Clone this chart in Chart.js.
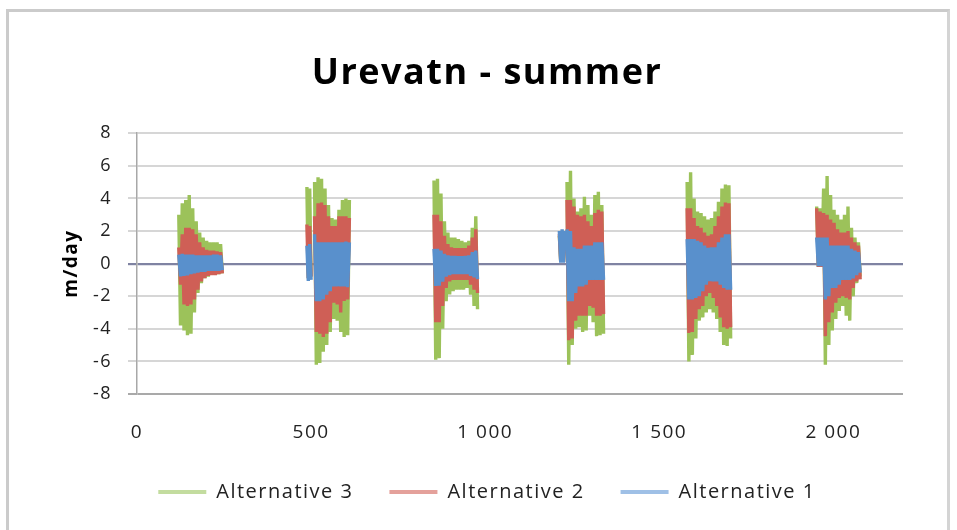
<!DOCTYPE html>
<html lang="no">
<head>
  <meta charset="UTF-8">
  <title>Urevatn - summer</title>
  <script src="https://cdn.jsdelivr.net/npm/chart.js"></script>
  <style>
    body { margin: 0; background: #fff; }
    #frame {
      position: absolute; left: 6px; top: 9px; width: 944px; height: 560px;
      box-sizing: border-box; border: 3px solid #cbcbcb; border-right-color: #d4d4d4;
    }
    #chart { position: absolute; left: 0; top: 0; }
  </style>
</head>
<body>
  <div id="frame"></div>
  <canvas id="chart" width="957" height="530"></canvas>

  <script>
    // hour index of each sample, null rows in the series split the summer blocks
    const hours = [
      120, 125, 130, 135, 140, 145, 150, 155, 160, 165, 170, 175, 180, 185, 190, 195, 200, 205, 210, 215, 220, 225, 230, 235, 240, 245,
      400,
      488, 492, 496, 500,
      505,
      510, 515, 520, 525, 530, 535, 540, 545, 550, 555, 560, 565, 570, 575, 580, 585, 590, 595, 600, 605, 610,
      750,
      853, 858, 863, 868, 873, 878, 883, 888, 893, 898, 903, 908, 913, 918, 923, 928, 933, 938, 943, 948, 953, 958, 963, 968, 973, 978,
      1100,
      1213, 1217, 1221, 1225, 1229,
      1232,
      1235, 1240, 1245, 1250, 1255, 1260, 1265, 1270, 1275, 1280, 1285, 1290, 1295, 1300, 1305, 1310, 1315, 1320, 1325, 1330, 1335, 1340,
      1450,
      1580, 1585, 1590, 1595, 1600, 1605, 1610, 1615, 1620, 1625, 1630, 1635, 1640, 1645, 1650, 1655, 1660, 1665, 1670, 1675, 1680, 1685, 1690, 1695, 1700, 1705,
      1850,
      1952, 1957, 1962, 1967, 1972, 1977, 1982, 1987, 1992, 1997, 2002, 2007, 2012, 2017, 2022, 2027, 2032, 2037, 2042, 2047, 2052, 2057, 2062, 2067, 2072, 2077
    ];

    const alt3 = [
      3.0, -3.8, 3.7, -4.1, 3.9, -4.4, 4.2, -4.3, 3.4, -3.0, 2.6, -1.8, 1.9, -1.2, 1.6, -0.9, 1.4, -0.8, 1.3, -0.7, 1.3, -0.7, 1.3, -0.65, 1.2, -0.6,
      null,
      4.7, -0.9, 4.6, -0.8,
      null,
      5.0, -6.2, 5.3, -6.1, 5.2, -5.4, 4.6, -5.0, 3.6, -4.2, 2.8, -3.4, 2.7, -3.5, 3.3, -4.2, 3.9, -4.5, 4.0, -4.4, 3.9,
      null,
      5.1, -5.9, 5.2, -5.8, 4.3, -4.0, 2.6, -2.3, 1.9, -1.9, 1.6, -1.7, 1.6, -1.6, 1.5, -1.6, 1.4, -1.6, 1.3, -1.5, 1.4, -1.9, 2.2, -2.6, 2.9, -2.8,
      null,
      1.7, 0.1, 1.7, 0.1, 1.6,
      null,
      5.0, -6.2, 5.7, -5.0, 4.0, -4.0, 3.2, -3.9, 3.4, -4.2, 4.1, -4.1, 3.6, -3.2, 3.0, -3.6, 4.2, -4.45, 4.4, -4.4, 3.6, -4.3,
      null,
      5.0, -6.0, 5.6, -5.6, 4.0, -4.6, 3.2, -3.5, 3.1, -3.3, 2.9, -3.0, 2.7, -2.8, 2.8, -3.0, 3.2, -3.4, 3.8, -4.2, 4.6, -5.0, 4.85, -5.05, 4.8, -4.6,
      null,
      3.5, -0.2, 3.4, -0.2, 4.6, -6.2, 5.37, -5.0, 4.2, -4.1, 3.3, -3.4, 3.0, -2.9, 2.7, -2.6, 3.0, -3.2, 3.5, -3.5, 2.2, -2.0, 1.6, -1.2, 1.3, -0.8
    ];

    const alt2 = [
      1.0, -1.3, 1.8, -2.5, 2.2, -2.6, 2.2, -2.5, 2.1, -2.2, 1.8, -1.6, 1.3, -1.1, 1.0, -0.9, 0.85, -0.75, 0.8, -0.7, 0.8, -0.7, 0.75, -0.65, 0.7, -0.6,
      null,
      2.4, -0.9, 2.3, -0.8,
      null,
      2.9, -4.2, 3.7, -4.3, 3.75, -4.5, 3.6, -4.3, 2.9, -3.6, 2.3, -2.4, 2.3, -2.5, 2.9, -3.0, 2.9, -2.3, 2.9, -2.2, 2.8,
      null,
      3.0, -3.6, 3.0, -3.6, 2.6, -2.6, 1.7, -1.5, 1.2, -1.1, 1.0, -1.0, 0.95, -1.0, 0.95, -1.0, 0.95, -1.0, 0.95, -1.0, 1.1, -1.3, 1.6, -1.6, 2.1, -1.8,
      null,
      1.8, 0.1, 1.8, 0.1, 1.7,
      null,
      3.9, -4.7, 3.9, -4.6, 3.5, -3.5, 3.0, -3.2, 2.9, -3.2, 3.0, -3.2, 2.6, -2.6, 2.3, -2.7, 3.1, -3.2, 3.3, -3.2, 3.2, -3.1,
      null,
      3.4, -4.25, 3.4, -4.2, 2.8, -3.4, 2.3, -2.8, 2.2, -2.6, 1.9, -2.0, 1.7, -1.8, 1.8, -2.1, 2.3, -2.6, 2.9, -3.3, 3.5, -3.9, 3.75, -4.0, 3.7, -3.9,
      null,
      3.4, -0.2, 3.2, -0.2, 3.1, -4.45, 3.0, -3.6, 2.7, -3.0, 2.5, -2.4, 2.1, -2.1, 1.9, -2.0, 1.9, -2.1, 2.0, -2.2, 1.6, -1.5, 1.3, -1.1, 1.1, -0.97
    ];

    const alt1 = [
      0.55, -0.78, 0.6, -0.75, 0.55, -0.72, 0.55, -0.65, 0.55, -0.6, 0.5, -0.55, 0.5, -0.5, 0.5, -0.5, 0.5, -0.45, 0.5, -0.45, 0.55, -0.45, 0.55, -0.45, 0.5, -0.4,
      null,
      1.1, -1.07, 1.2, -1.0,
      null,
      1.8, -2.3, 1.3, -2.3, 1.3, -2.2, 1.3, -1.9, 1.3, -1.7, 1.3, -1.4, 1.3, -1.4, 1.3, -1.4, 1.3, -1.4, 1.35, -1.45, 1.3,
      null,
      0.9, -1.37, 0.9, -1.35, 0.8, -1.1, 0.6, -0.8, 0.5, -0.7, 0.47, -0.65, 0.47, -0.65, 0.45, -0.65, 0.45, -0.65, 0.47, -0.65, 0.5, -0.75, 0.7, -0.85, 0.8, -0.95,
      null,
      2.0, 0.05, 2.1, 0.05, 2.0,
      null,
      2.1, -2.3, 2.0, -2.3, 1.0, -1.8, 0.9, -1.4, 0.9, -1.4, 1.1, -1.3, 1.1, -1.0, 1.1, -1.0, 1.3, -1.0, 1.3, -1.0, 1.3, -1.0,
      null,
      1.5, -2.2, 1.5, -2.2, 1.5, -2.1, 1.4, -2.0, 1.3, -1.7, 1.1, -1.3, 0.97, -1.07, 1.0, -1.1, 1.0, -1.1, 1.3, -1.3, 1.6, -1.5, 1.8, -1.6, 1.8, -1.6,
      null,
      1.6, -0.15, 1.6, -0.15, 1.6, -2.2, 1.6, -2.0, 1.1, -1.5, 1.1, -1.5, 1.1, -1.3, 1.1, -1.0, 1.1, -1.0, 1.1, -1.0, 0.9, -0.9, 0.8, -0.7, 0.7, -0.55
    ];

    const seriesNames = ['Alternative 1', 'Alternative 2', 'Alternative 3'];
    const xTicks = [0, 500, 1000, 1500, 2000];
    const xTickLabels = ['0', '500', '1 000', '1 500', '2 000'];
    const yTicks = [-8, -6, -4, -2, 0, 2, 4, 6, 8];

    const lineColors = ['#5990cc', '#cf5f56', '#9cc25a'];
    const legendColors = ['#9fc0e6', '#e4a19b', '#c3dc9f'];
    const FONT = "'Open Sans', sans-serif";
    const SPACING = '1.5px';

    const toPoints = ys => hours.map((h, i) => ({ x: h, y: ys[i] }));

    // the source picture is stretched a bit sideways, widen the text to suit
    const letterSpacing = {
      id: 'letterSpacing',
      beforeLayout(chart) { chart.ctx.letterSpacing = SPACING; },
      beforeDraw(chart) { chart.ctx.letterSpacing = SPACING; }
    };

    new Chart(document.getElementById('chart'), {
      type: 'line',
      data: {
        datasets: [alt1, alt2, alt3].map((ys, i) => ({
          label: seriesNames[i],
          data: toPoints(ys),
          borderColor: lineColors[i],
          backgroundColor: legendColors[i],
          borderWidth: 3.4,
          borderJoinStyle: 'bevel',
          pointRadius: 0,
          tension: 0,
          spanGaps: false
        }))
      },
      options: {
        responsive: false,
        animation: false,
        devicePixelRatio: 1,
        layout: { padding: { left: 18, right: 1, top: 10, bottom: 18 } },
        plugins: {
          tooltip: { enabled: false },
          title: {
            display: true,
            text: 'Urevatn - summer',
            color: '#000',
            font: { family: FONT, size: 36, weight: 'bold' },
            padding: { top: 42, bottom: 38 }
          },
          legend: {
            position: 'bottom',
            reverse: true,
            labels: {
              color: '#222',
              font: { family: FONT, size: 20 },
              boxWidth: 48,
              boxHeight: 4,
              padding: 36,
              generateLabels(chart) {
                return Chart.defaults.plugins.legend.labels.generateLabels(chart).map(item => {
                  item.fillStyle = legendColors[item.datasetIndex];
                  item.strokeStyle = legendColors[item.datasetIndex];
                  item.lineWidth = 0;
                  return item;
                });
              }
            }
          }
        },
        scales: {
          x: {
            type: 'linear',
            min: 0,
            max: 2200,
            afterBuildTicks: s => { s.ticks = xTicks.map(v => ({ value: v })); },
            afterFit: s => { s.height = 52; },
            grid: { display: false, drawTicks: false },
            border: { display: false },
            ticks: {
              color: '#222',
              font: { family: FONT, size: 19 },
              padding: 27,
              maxRotation: 0,
              callback: (v, i) => xTickLabels[i]
            }
          },
          y: {
            min: -8,
            max: 8,
            afterBuildTicks: s => { s.ticks = yTicks.map(v => ({ value: v })); },
            afterFit: s => { s.width = 119; },
            grid: {
              color: c => c.tick.value === 0 ? '#7f83a2' : (c.tick.value === -8 ? '#a9a9a9' : '#d6d6d6'),
              lineWidth: c => c.tick.value === 0 ? 2.2 : 2,
              tickLength: 9
            },
            border: { display: true, color: '#a8a8a8', width: 1.5 },
            ticks: {
              color: '#222',
              font: { family: FONT, size: 18 },
              padding: 16
            },
            title: {
              display: true,
              text: 'm/day',
              color: '#000',
              font: { family: FONT, size: 19, weight: 'bold' },
              padding: { top: 42 }
            }
          },
          // empty strip that keeps the plot clear of the right edge
          yRight: {
            position: 'right',
            afterFit: s => { s.width = 53; },
            grid: { display: false, drawTicks: false },
            border: { display: false },
            ticks: { display: false }
          }
        }
      },
      plugins: [letterSpacing]
    });
  </script>
</body>
</html>
